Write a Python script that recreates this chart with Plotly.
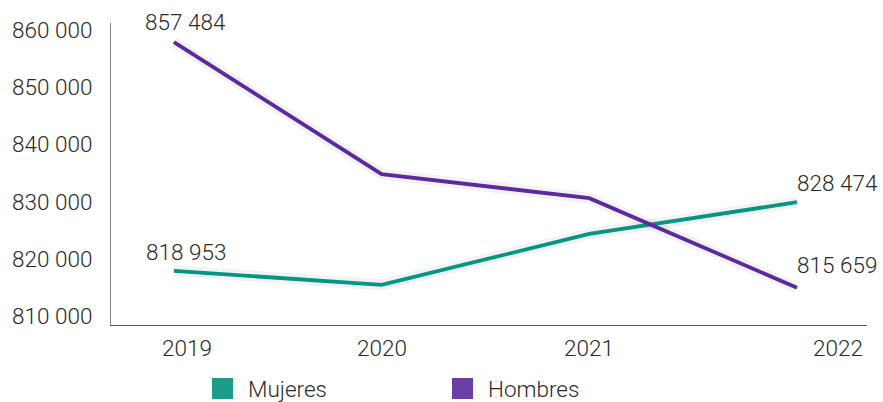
import plotly.graph_objects as go

years = ["2019", "2020", "2021", "2022"]
series_names = ["Mujeres", "Hombres"]
mujeres = [817900, 815450, 824350, 829900]
hombres = [857900, 834800, 830600, 814950]
label_mujeres = ["818 953", None, None, "828 474"]
label_hombres = ["857 484", None, None, "815 659"]
y_ticks = [810000, 820000, 830000, 840000, 850000, 860000]
y_ticktext = ["810 000", "820 000", "830 000", "840 000", "850 000", "860 000"]

colors = ["#00967f", "#5b2a9c"]
legend_colors = ["#1a9e8a", "#6b3fa6"]
FONT = "Roboto"
TXT = "#2a2a2a"
FS = 22.5

xs = list(range(len(years)))
fig = go.Figure()

# faint shadow under the lines
for vals in (mujeres, hombres):
    fig.add_trace(go.Scatter(x=xs, y=vals, mode="lines",
                             line=dict(color="rgba(0,0,0,0.05)", width=11),
                             hoverinfo="skip", showlegend=False))

for name, vals, c in zip(series_names, [mujeres, hombres], colors):
    fig.add_trace(go.Scatter(x=xs, y=vals, mode="lines", name=name,
                             line=dict(color=c, width=3.8), showlegend=False))

# value labels
shift_x = {0: 12, 3: 40}
shift_y_m = {0: 19, 3: 19}
shift_y_h = {0: 20, 3: 23}
for labels, vals, sy in ((label_mujeres, mujeres, shift_y_m), (label_hombres, hombres, shift_y_h)):
    for i, lab in enumerate(labels):
        if lab is None:
            continue
        fig.add_annotation(x=xs[i], y=vals[i], text=lab, showarrow=False,
                           xanchor="center", yanchor="middle",
                           xshift=shift_x[i], yshift=sy[i],
                           font=dict(family=FONT, size=FS, color=TXT, weight=300))

# year labels
year_shift = [13, 0, 0, 41]
for i, yr in enumerate(years):
    fig.add_annotation(x=xs[i], y=0, xref="x", yref="paper", text=yr, showarrow=False,
                       xanchor="center", yanchor="middle", xshift=year_shift[i], yshift=-23,
                       font=dict(family=FONT, size=FS, color=TXT, weight=300))

# legend (squares + text)
leg_x = [212, 452]
for name, c, lx in zip(series_names, legend_colors, leg_x):
    x0 = (lx - 111) / 756
    x1 = (lx + 21 - 111) / 756
    fig.add_shape(type="rect", xref="paper", yref="paper",
                  x0=x0, x1=x1, y0=(325 - 399) / 302, y1=(325 - 378) / 302,
                  fillcolor=c, line=dict(width=0))
    fig.add_annotation(x=(lx + 34 - 111) / 756, y=(325 - 389) / 302, xref="paper", yref="paper",
                       text=name, showarrow=False, xanchor="left", yanchor="middle",
                       font=dict(family=FONT, size=FS, color=TXT, weight=300))

fig.update_layout(
    width=883, height=402,
    margin=dict(l=111, r=16, t=23, b=77),
    paper_bgcolor="white", plot_bgcolor="white",
    showlegend=False,
    xaxis=dict(range=[-0.303, 3.337], showgrid=False, zeroline=False, automargin=False,
               showticklabels=False, showline=True, linecolor="#555555", linewidth=1.2,
               fixedrange=True),
    yaxis=dict(range=[808430, 861230], tickvals=y_ticks, ticktext=y_ticktext,
               showgrid=False, zeroline=False, showline=True, linecolor="#888888",
               linewidth=1.2, ticks="", ticklabelstandoff=13, automargin=False,
               tickfont=dict(family=FONT, size=FS, color=TXT, weight=300)),
)

fig.write_html("out.html", config={"displayModeBar": False},
               post_script="document.body.style.margin='0';document.body.style.overflow='hidden';")
